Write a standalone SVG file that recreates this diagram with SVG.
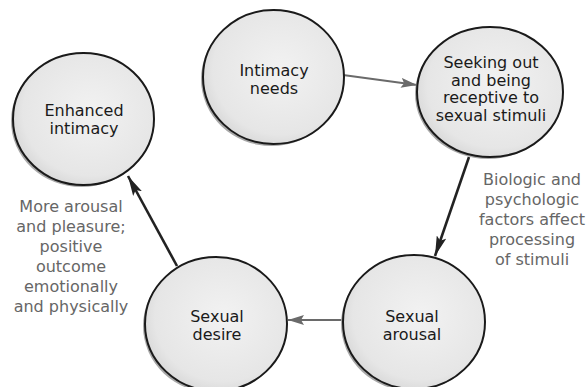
<svg xmlns="http://www.w3.org/2000/svg" width="588" height="387" viewBox="0 0 588 387">
<style>
.bg{fill:#ffffff}
.shadow{fill:#a8a8a8}
.node{fill:url(#g);stroke:#1a1a1a;stroke-width:2}
.t{font-family:"DejaVu Sans","Liberation Sans",sans-serif;font-size:16px;fill:#1a1a1a;text-anchor:middle}
.lab{font-family:"DejaVu Sans","Liberation Sans",sans-serif;font-size:16px;fill:#666666;text-anchor:middle}
.ga{stroke:#6a6a6a;stroke-width:2;fill:none}
.da{stroke:#222222;stroke-width:2.6;fill:none}
</style>
<defs>
<radialGradient id="g" cx="0.55" cy="0.45" r="0.6">
<stop offset="0" stop-color="#f2f2f2"/>
<stop offset="0.8" stop-color="#e6e6e6"/>
<stop offset="1" stop-color="#d6d6d6"/>
</radialGradient>
<marker id="mg" markerUnits="userSpaceOnUse" markerWidth="16" markerHeight="10" refX="16" refY="5" orient="auto">
<path d="M0,0 L16,5 L0,10 L3,5 z" fill="#6a6a6a"/>
</marker>
<marker id="md" markerUnits="userSpaceOnUse" markerWidth="20" markerHeight="10" refX="20" refY="5" orient="auto">
<path d="M0,0 L20,5 L0,10 L4,5 z" fill="#222222"/>
</marker>
</defs>
<rect class="bg" width="588" height="387"/>
<g id="connectors">
<line class="ga" x1="343" y1="75" x2="417" y2="85" marker-end="url(#mg)"/>
<line class="da" x1="469" y1="157" x2="435" y2="256" marker-end="url(#md)"/>
<line class="ga" x1="343" y1="320" x2="288" y2="320" marker-end="url(#mg)"/>
<line class="da" x1="177" y1="266" x2="128" y2="176" marker-end="url(#md)"/>
</g>
<g id="intimacy-needs">
<ellipse class="shadow" cx="271.5" cy="79" rx="70.5" ry="67"/>
<ellipse class="node" cx="273.5" cy="77" rx="70.5" ry="67"/>
<text class="t" x="274" y="76">Intimacy</text>
<text class="t" x="274" y="93.5">needs</text>
</g>
<g id="seeking-out">
<ellipse class="shadow" cx="488" cy="94" rx="73" ry="65"/>
<ellipse class="node" cx="490" cy="92" rx="73" ry="65"/>
<text class="t" x="491" y="68">Seeking out</text>
<text class="t" x="491" y="85.5">and being</text>
<text class="t" x="491" y="103">receptive to</text>
<text class="t" x="491" y="120.5">sexual stimuli</text>
</g>
<g id="sexual-arousal">
<ellipse class="shadow" cx="412" cy="324" rx="71" ry="67"/>
<ellipse class="node" cx="414" cy="322" rx="71" ry="67"/>
<text class="t" x="412" y="322">Sexual</text>
<text class="t" x="412" y="339.5">arousal</text>
</g>
<g id="sexual-desire">
<ellipse class="shadow" cx="214" cy="326" rx="71" ry="67"/>
<ellipse class="node" cx="216" cy="324" rx="71" ry="67"/>
<text class="t" x="217" y="322">Sexual</text>
<text class="t" x="217" y="339.5">desire</text>
</g>
<g id="enhanced-intimacy">
<ellipse class="shadow" cx="81.5" cy="121" rx="70.5" ry="66"/>
<ellipse class="node" cx="83.5" cy="119" rx="70.5" ry="66"/>
<text class="t" x="84" y="116">Enhanced</text>
<text class="t" x="84" y="133.5">intimacy</text>
</g>
<g id="labels">
<text class="lab" x="532" y="185">Biologic and</text>
<text class="lab" x="532" y="205">psychologic</text>
<text class="lab" x="532" y="225">factors affect</text>
<text class="lab" x="532" y="245">processing</text>
<text class="lab" x="532" y="265">of stimuli</text>
<text class="lab" x="71" y="212">More arousal</text>
<text class="lab" x="71" y="232">and pleasure;</text>
<text class="lab" x="71" y="252">positive</text>
<text class="lab" x="71" y="272">outcome</text>
<text class="lab" x="71" y="292">emotionally</text>
<text class="lab" x="71" y="312">and physically</text>
</g>
</svg>
